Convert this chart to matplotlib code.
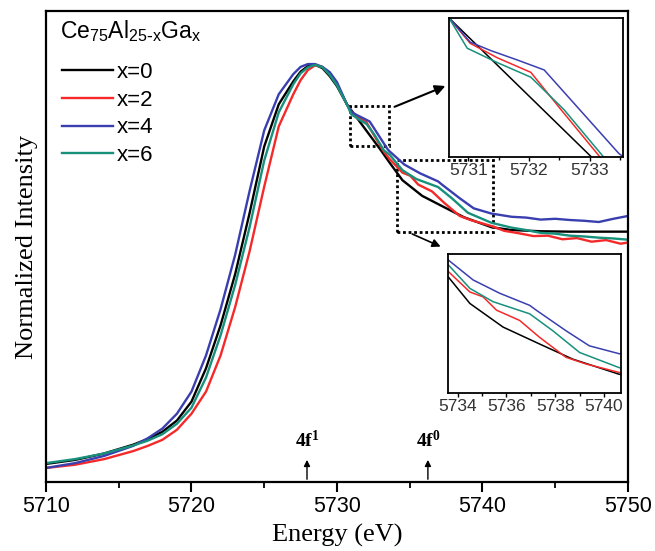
import matplotlib
matplotlib.use('Agg')
import matplotlib.pyplot as plt
from matplotlib.patches import Rectangle
from matplotlib.ticker import MultipleLocator

plt.rcParams['font.family'] = ['Liberation Sans', 'DejaVu Sans']
plt.rcParams['mathtext.default'] = 'regular'

# Ce75Al25-xGax, Ce L3-edge XANES
E_black = [5710, 5712, 5714, 5716, 5717, 5718, 5719, 5720, 5721, 5722, 5723, 5724, 5725,
           5726, 5727, 5727.5, 5728, 5728.5, 5729, 5729.5, 5730, 5730.68, 5733.03, 5733.61,
           5734.5, 5735.86, 5737.36, 5738.72, 5740.62, 5742, 5744, 5746, 5748, 5750]
I_black = [0.010, 0.020, 0.036, 0.058, 0.072, 0.090, 0.118, 0.165, 0.248, 0.355, 0.482, 0.635, 0.800,
           0.905, 0.962, 0.986, 1.000, 1.003, 0.995, 0.975, 0.950, 0.905, 0.790, 0.760,
           0.716, 0.677, 0.649, 0.624, 0.599, 0.592, 0.589, 0.588, 0.588, 0.588]

E_red = [5710, 5712, 5714, 5716, 5717, 5718, 5719, 5720, 5721, 5722, 5723, 5724, 5725,
         5726, 5727, 5727.5, 5728, 5728.5, 5729, 5729.5, 5730, 5730.68, 5731.03, 5731.48,
         5732.03, 5732.53, 5733.17, 5733.61, 5734.5, 5735.04, 5735.59, 5736.54, 5737.36,
         5738.44, 5739.26, 5740.62, 5741.5, 5742.5, 5743.5, 5744.5, 5745.5, 5746.5,
         5747.5, 5748.5, 5749.5, 5750]
I_red = [0.000, 0.008, 0.022, 0.042, 0.055, 0.070, 0.095, 0.135, 0.190, 0.280, 0.400, 0.540, 0.700,
         0.850, 0.930, 0.965, 0.990, 1.002, 0.998, 0.980, 0.955, 0.905, 0.884, 0.872,
         0.860, 0.829, 0.790, 0.769, 0.735, 0.727, 0.705, 0.688, 0.660,
         0.627, 0.616, 0.602, 0.590, 0.584, 0.577, 0.578, 0.569, 0.572, 0.563, 0.567, 0.558, 0.561]

E_blue = [5710, 5712, 5714, 5716, 5717, 5718, 5719, 5720, 5721, 5722, 5723, 5724, 5725,
          5726, 5727, 5727.5, 5728, 5728.5, 5729, 5729.5, 5730, 5730.68, 5731.03, 5731.37,
          5731.82, 5732.25, 5733.48, 5733.61, 5734.63, 5735.72, 5736.95, 5737.22, 5738.44,
          5739.4, 5740.62, 5742, 5743, 5744, 5745, 5746, 5747, 5748, 5749, 5750]
I_blue = [0.000, 0.012, 0.030, 0.055, 0.074, 0.098, 0.135, 0.190, 0.280, 0.395, 0.530, 0.690, 0.840,
          0.930, 0.980, 0.998, 1.005, 1.005, 0.998, 0.985, 0.960, 0.905, 0.885, 0.878,
          0.870, 0.862, 0.793, 0.788, 0.755, 0.733, 0.713, 0.705, 0.671,
          0.646, 0.633, 0.625, 0.623, 0.618, 0.620, 0.617, 0.615, 0.612, 0.620, 0.627]

E_green = [5710, 5712, 5714, 5716, 5717, 5718, 5719, 5720, 5721, 5722, 5723, 5724, 5725,
           5726, 5727, 5727.5, 5728, 5728.5, 5729, 5729.5, 5730, 5730.68, 5730.98, 5731.48,
           5732.03, 5732.58, 5733.23, 5733.61, 5734.5, 5735.45, 5736.95, 5737.9, 5739.0,
           5740.62, 5742, 5743, 5744, 5745, 5746, 5747, 5748, 5749, 5750]
I_green = [0.012, 0.022, 0.036, 0.056, 0.068, 0.084, 0.110, 0.150, 0.225, 0.330, 0.455, 0.600, 0.765,
           0.885, 0.955, 0.982, 0.997, 1.003, 0.997, 0.978, 0.952, 0.905, 0.880, 0.868,
           0.856, 0.829, 0.790, 0.780, 0.741, 0.719, 0.699, 0.671, 0.635,
           0.610, 0.598, 0.592, 0.585, 0.583, 0.578, 0.576, 0.573, 0.571, 0.568]

labels = ['x=0', 'x=2', 'x=4', 'x=6']
colors = ['black', '#f42a2a', '#3a3fb0', '#17907c']
energies = [E_black, E_red, E_blue, E_green]
intens = [I_black, I_red, I_blue, I_green]

peak_names = [r'4f$^{1}$', r'4f$^{0}$']
peak_E = [5727.94, 5736.25]

# zoomed regions (x0, x1, y0, y1)
box1 = (5730.9, 5733.6, 0.802, 0.900)
box2 = (5734.1, 5740.7, 0.587, 0.767)

fig = plt.figure(figsize=(6.55, 5.51), dpi=100)
ax = fig.add_axes([0.0702, 0.1252, 0.8885, 0.8548])

for E, I, c, lab in zip(energies, intens, colors, labels):
    ax.plot(E, I, color=c, lw=1.7, label=lab)

ax.set_xlim(5710, 5750)
ax.set_ylim(-0.035, 1.137)
ax.xaxis.set_major_locator(MultipleLocator(10))
ax.xaxis.set_minor_locator(MultipleLocator(5))
ax.set_yticks([])
ax.tick_params(axis='x', which='major', direction='out', length=7, width=1.5, labelsize=15.5, pad=3)
ax.tick_params(axis='x', which='minor', direction='out', length=4, width=1.3)
for sp in ax.spines.values():
    sp.set_linewidth(1.6)
ax.set_xlabel('Energy (eV)', family='Liberation Serif', fontsize=19, labelpad=5)
ax.set_ylabel('Normalized Intensity', family='Liberation Serif', fontsize=19, labelpad=6)

ax.text(0.024, 0.9575, r'Ce$_{75}$Al$_{25\text{-}x}$Ga$_{x}$', transform=ax.transAxes,
        fontsize=16.5, ha='left', va='center')
ax.legend(loc='upper left', bbox_to_anchor=(0.0275, 0.8917), frameon=False, fontsize=16,
          handlelength=2.3, handletextpad=0.18, labelspacing=0.3, borderpad=0, borderaxespad=0)

for name, e in zip(peak_names, peak_E):
    ax.annotate('', xy=(e, 0.027), xytext=(e, -0.035),
                arrowprops=dict(arrowstyle='-|>', lw=1, color='black', mutation_scale=9))
    ax.text(e, 0.052, name, ha='center', va='baseline', family='Liberation Serif',
            weight='bold', fontsize=14)

for b in (box1, box2):
    ax.add_patch(Rectangle((b[0], b[2]), b[1] - b[0], b[3] - b[2], fill=False,
                           ls=(0, (1, 1)), lw=2, color='black'))

ax.annotate('', xy=(5737.63, 0.953), xytext=(5733.78, 0.896),
            arrowprops=dict(arrowstyle='-|>', lw=1.5, color='black', mutation_scale=15))
ax.annotate('', xy=(5737.3, 0.548), xytext=(5735.0, 0.585),
            arrowprops=dict(arrowstyle='-|>', lw=1.2, color='black', mutation_scale=12))

# insets
ins1 = fig.add_axes([0.6855, 0.7151, 0.2656, 0.2523])
ins2 = fig.add_axes([0.684, 0.2868, 0.2641, 0.2523])
ins_set = [(ins1, (5730.68, 5733.55), (0.79, 0.905), 1, 0.5),
           (ins2, (5733.6, 5740.7), (0.568, 0.798), 2, 1)]
for a, xl, yl, maj, mnr in ins_set:
    for E, I, c in zip(energies, intens, colors):
        a.plot(E, I, color=c, lw=1.1)
    a.set_xlim(*xl)
    a.set_ylim(*yl)
    a.set_yticks([])
    a.xaxis.set_major_locator(MultipleLocator(maj))
    a.xaxis.set_minor_locator(MultipleLocator(mnr))
    a.tick_params(axis='x', which='major', direction='out', length=3, width=1,
                  labelsize=12.5, labelcolor='#333333', pad=1.5)
    a.tick_params(axis='x', which='minor', direction='out', length=2, width=1)
    for sp in a.spines.values():
        sp.set_linewidth(1.3)

fig.savefig('out.png', dpi=100)
